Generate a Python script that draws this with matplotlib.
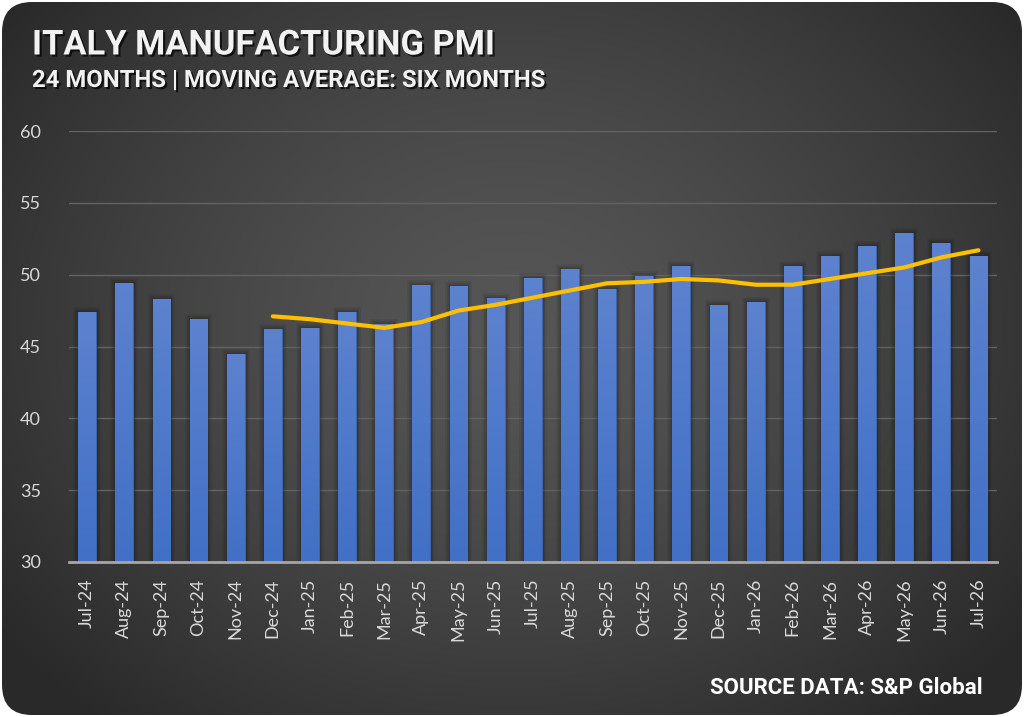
import numpy as np
import matplotlib
matplotlib.use("Agg")
import matplotlib.pyplot as plt
from matplotlib.patches import FancyBboxPatch
from matplotlib.colors import LinearSegmentedColormap
import matplotlib.patheffects as pe

months = ["Jul-24", "Aug-24", "Sep-24", "Oct-24", "Nov-24", "Dec-24", "Jan-25", "Feb-25",
          "Mar-25", "Apr-25", "May-25", "Jun-25", "Jul-25", "Aug-25", "Sep-25", "Oct-25",
          "Nov-25", "Dec-25", "Jan-26", "Feb-26", "Mar-26", "Apr-26", "May-26", "Jun-26", "Jul-26"]
pmi = [47.4, 49.4, 48.3, 46.9, 44.5, 46.2, 46.3, 47.4, 46.6, 49.3, 49.2, 48.4,
       49.8, 50.4, 49.0, 49.9, 50.6, 47.9, 48.1, 50.6, 51.3, 52.0, 52.9, 52.2, 51.3]
# six-month moving average (starts with the 6th month)
ma_values = [47.1, 46.9, 46.6, 46.3, 46.7, 47.5, 47.9, 48.4, 48.9, 49.4, 49.5,
             49.7, 49.6, 49.3, 49.3, 49.7, 50.1, 50.5, 51.2, 51.7]
yticks = [30, 35, 40, 45, 50, 55, 60]

W, H = 1024, 717
fig = plt.figure(figsize=(W / 100, H / 100), dpi=100, facecolor="white")

# background card with radial gradient
bg = fig.add_axes([0, 0, 1, 1])
bg.set_xlim(0, W)
bg.set_ylim(0, H)
bg.axis("off")
yy, xx = np.mgrid[0:H, 0:W]
cx, cy = 512, 390
r = np.sqrt(((xx - cx) / 640.0) ** 2 + ((yy - cy) / 520.0) ** 2)
r = np.clip(r, 0, 1)
c0, c1 = 0x56 / 255, 0x29 / 255
val = c0 + (c1 - c0) * r ** 1.4
img = np.dstack([val, val, val])
im = bg.imshow(img, extent=[0, W, 0, H], origin="lower", interpolation="bilinear", zorder=0)
card = FancyBboxPatch((2, 2), W - 4, H - 4, boxstyle="round,pad=0,rounding_size=30",
                      facecolor="none", edgecolor="none", transform=bg.transData)
bg.add_patch(card)
im.set_clip_path(card)

shadow = [pe.withSimplePatchShadow(offset=(1.5, -1.5), shadow_rgbFace="black", alpha=0.7)]
cond = dict(family=["Roboto", "DejaVu Sans"], fontweight="bold", color="#f2f2f2")
fig.text(32 / W, 1 - 54.5 / H, "ITALY MANUFACTURING PMI", fontsize=24.8, path_effects=shadow, **cond)
fig.text(32 / W, 1 - 87 / H, "24 MONTHS | MOVING AVERAGE: SIX MONTHS", fontsize=17.2,
         path_effects=shadow, **cond)
fig.text(983 / W, 1 - 694 / H, "SOURCE DATA: S&P Global", fontsize=16, ha="right",
         family=["Roboto", "DejaVu Sans"], fontweight="bold", color="white")

# main axes
left, right = 68.6, 997
top, bottom = 131, 562
ax = fig.add_axes([left / W, 1 - bottom / H, (right - left) / W, (bottom - top) / H])
ax.patch.set_alpha(0)
x = np.arange(len(months))

glow = [pe.Stroke(linewidth=7, foreground="black", alpha=0.06),
        pe.Stroke(linewidth=4.5, foreground="black", alpha=0.09),
        pe.Stroke(linewidth=2.5, foreground="black", alpha=0.14),
        pe.Normal()]
bars = ax.bar(x, pmi, width=0.48, color="#4f79c9", edgecolor="#3e63a8", linewidth=0.8,
              zorder=3, path_effects=glow)
grad = np.linspace(0, 1, 256).reshape(-1, 1)
cmap = LinearSegmentedColormap.from_list("b", ["#4170c6", "#5d82cf"])
for b in bars:
    x0 = b.get_x()
    gi = ax.imshow(grad, extent=[x0, x0 + b.get_width(), 30, b.get_height()], origin="lower",
                   cmap=cmap, aspect="auto", zorder=3.5)
    gi.set_clip_path(b)
ax.set_xlim(-0.5, len(months) - 0.5)
ax.set_ylim(30, 60)

ma_x = x[len(months) - len(ma_values):]
ax.plot(ma_x, ma_values, color="#ffc000", lw=3, zorder=5, solid_capstyle="round")

ax.set_yticks(yticks)
ax.set_xticks(x)
ax.set_xticklabels(months, rotation=90)
for s in ["top", "right", "left"]:
    ax.spines[s].set_visible(False)
ax.spines["bottom"].set_color("#a6a6a6")
ax.spines["bottom"].set_linewidth(2)
ax.spines["bottom"].set_zorder(6)
ax.tick_params(axis="both", length=0, colors="#d9d9d9", labelsize=13)
ax.tick_params(axis="y", pad=20)
ax.tick_params(axis="x", pad=12)
for lab in ax.get_xticklabels() + ax.get_yticklabels():
    lab.set_family(["Lato", "DejaVu Sans"])
ax.grid(axis="y", color="#636363", lw=1, zorder=1)
ax.set_axisbelow(True)
fig.savefig("out.png", dpi=100, facecolor="white")
